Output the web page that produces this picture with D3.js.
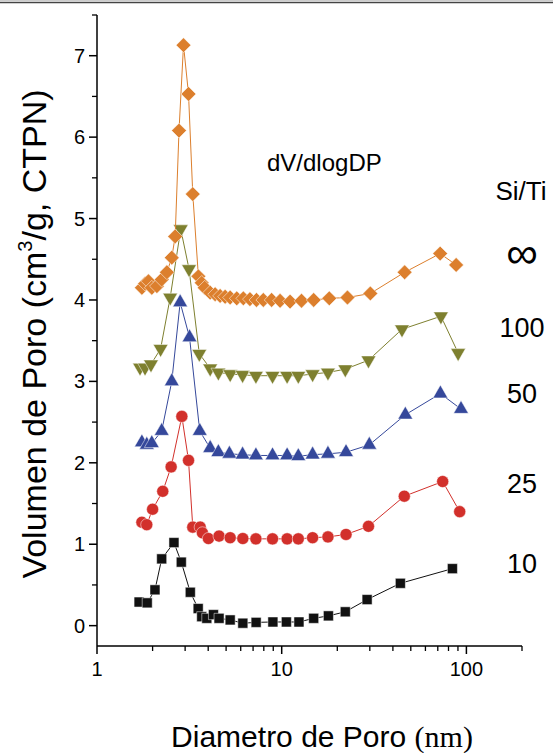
<!DOCTYPE html>
<html>
<head>
<meta charset="utf-8">
<script src="https://cdn.jsdelivr.net/npm/d3@7"></script>
<style>
  body { margin: 0; background: #fff; }
  svg { display: block; font-family: "Liberation Sans", Arial, sans-serif; }
</style>
</head>
<body>
<div id="chart"></div>
<script>
// data: pore diameter (nm) and dV/dlogD for each Si/Ti ratio
var x10 = [1.69, 1.87, 2.06, 2.24, 2.61, 2.86, 3.20, 3.53, 3.69, 3.93, 4.27, 4.58, 5.26, 6.16, 7.27, 8.96, 10.6, 12.4, 14.9, 17.9, 22.1, 29.0, 43.9, 84.0];
var y10 = [0.29, 0.28, 0.44, 0.82, 1.02, 0.78, 0.41, 0.21, 0.11, 0.09, 0.135, 0.09, 0.07, 0.03, 0.04, 0.045, 0.045, 0.045, 0.09, 0.12, 0.17, 0.32, 0.52, 0.70];

var x25 = [1.75, 1.86, 2.00, 2.27, 2.52, 2.88, 3.13, 3.30, 3.62, 3.72, 4.01, 4.58, 5.26, 6.16, 7.25, 8.92, 10.7, 12.3, 14.7, 17.8, 22.3, 29.5, 46.1, 74.4, 92.0];
var y25 = [1.27, 1.24, 1.43, 1.65, 1.95, 2.57, 2.03, 1.21, 1.21, 1.14, 1.07, 1.10, 1.08, 1.07, 1.066, 1.066, 1.066, 1.066, 1.08, 1.09, 1.12, 1.22, 1.59, 1.77, 1.40];

var x50 = [1.75, 1.86, 1.98, 2.24, 2.54, 2.82, 3.17, 3.60, 4.10, 4.54, 5.21, 6.14, 7.25, 8.92, 10.7, 12.3, 14.7, 17.8, 22.3, 29.8, 46.7, 72.3, 93.5];
var y50 = [2.25, 2.22, 2.24, 2.39, 3.00, 3.97, 3.54, 2.39, 2.18, 2.13, 2.11, 2.10, 2.09, 2.09, 2.09, 2.08, 2.10, 2.11, 2.13, 2.22, 2.59, 2.85, 2.66];

var x100 = [1.71, 1.82, 1.96, 2.21, 2.49, 2.84, 3.15, 3.58, 4.10, 4.54, 5.26, 6.14, 7.25, 8.92, 10.7, 12.3, 14.7, 17.8, 22.1, 29.5, 44.8, 72.8, 90.2];
var y100 = [3.17, 3.17, 3.21, 3.40, 4.03, 4.87, 4.38, 3.34, 3.16, 3.11, 3.09, 3.08, 3.07, 3.07, 3.07, 3.07, 3.09, 3.11, 3.15, 3.26, 3.64, 3.80, 3.35];

var xInf = [1.75, 1.82, 1.90, 1.98, 2.11, 2.24, 2.39, 2.54, 2.65, 2.78, 2.94, 3.13, 3.30, 3.54, 3.69, 3.83, 4.10, 4.36, 4.64, 4.94, 5.26, 5.71, 6.20, 6.73, 7.3, 7.95, 8.82, 9.8, 11.1, 12.8, 14.9, 18.1, 22.7, 30.2, 46.3, 72.1, 88.0];
var yInf = [4.15, 4.20, 4.23, 4.15, 4.17, 4.25, 4.34, 4.52, 4.78, 6.08, 7.13, 6.53, 5.30, 4.29, 4.21, 4.15, 4.09, 4.07, 4.05, 4.04, 4.03, 4.02, 4.02, 4.01, 4.00, 4.00, 4.00, 3.99, 3.98, 3.99, 4.00, 4.02, 4.03, 4.08, 4.34, 4.57, 4.43];

// labels on the right side and tick labels
var seriesNames = ["10", "25", "50", "100", "\u221E"];
var xTickLabels = ["1", "10", "100"];
var yTickLabels = ["0", "1", "2", "3", "4", "5", "6", "7"];

var width = 553;
var height = 753;

// plot box (named so they don't clash with window.top)
var plotLeft = 97, plotRight = 522, plotTop = 15, plotBottom = 646;

var svg = d3.select("#chart")
    .append("svg")
    .attr("width", width)
    .attr("height", height);

// thin rule across the top of the page
svg.append("line")
    .attr("x1", 0).attr("x2", width)
    .attr("y1", 0.5).attr("y2", 0.5)
    .attr("stroke", "#ccc").attr("stroke-width", 1);
svg.append("line")
    .attr("x1", 0).attr("x2", width)
    .attr("y1", 2.5).attr("y2", 2.5)
    .attr("stroke", "#444").attr("stroke-width", 1.5);

var xScale = d3.scaleLog().domain([1, 200]).range([plotLeft, plotRight]);
var yScale = d3.scaleLinear().domain([-0.25, 7.5]).range([plotBottom, plotTop]);

// x axis: majors at decades, minors between
var xMajor = xTickLabels.map(Number);
var xMinor = [];
[1, 10, 100].forEach(function(d) {
    for (var k = 2; k <= 9; k++) {
        if (d * k <= 200) xMinor.push(d * k);
    }
});

var xAxis = svg.append("g")
    .attr("class", "xAxis")
    .attr("transform", "translate(0," + plotBottom + ")");

xAxis.append("line")
    .attr("x1", plotLeft).attr("x2", plotRight)
    .attr("stroke", "#000").attr("stroke-width", 1.5);

xAxis.selectAll(".minor").data(xMinor).enter()
    .append("line")
    .attr("x1", function(d) { return xScale(d); })
    .attr("x2", function(d) { return xScale(d); })
    .attr("y1", 0).attr("y2", 5)
    .attr("stroke", "#000").attr("stroke-width", 1.3);

xAxis.selectAll(".major").data(xMajor).enter()
    .append("line")
    .attr("x1", function(d) { return xScale(d); })
    .attr("x2", function(d) { return xScale(d); })
    .attr("y1", 0).attr("y2", 8)
    .attr("stroke", "#000").attr("stroke-width", 1.5);

xAxis.selectAll(".tickText").data(xTickLabels).enter()
    .append("text")
    .attr("class", "tickText")
    .attr("x", function(d) { return xScale(+d); })
    .attr("y", 30)
    .attr("text-anchor", "middle")
    .attr("font-size", 20)
    .text(function(d) { return d; });

// y axis: majors at integers, minors at halves
var yMajor = yTickLabels.map(Number);
var yMinor = d3.range(0.5, 7.6, 1);

var yAxis = svg.append("g")
    .attr("class", "yAxis")
    .attr("transform", "translate(" + plotLeft + ",0)");

yAxis.append("line")
    .attr("y1", plotTop).attr("y2", plotBottom)
    .attr("stroke", "#000").attr("stroke-width", 1.5);

yAxis.selectAll(".minor").data(yMinor).enter()
    .append("line")
    .attr("y1", function(d) { return yScale(d); })
    .attr("y2", function(d) { return yScale(d); })
    .attr("x1", 0).attr("x2", -5)
    .attr("stroke", "#000").attr("stroke-width", 1.3);

yAxis.selectAll(".major").data(yMajor).enter()
    .append("line")
    .attr("y1", function(d) { return yScale(d); })
    .attr("y2", function(d) { return yScale(d); })
    .attr("x1", 0).attr("x2", -8)
    .attr("stroke", "#000").attr("stroke-width", 1.5);

yAxis.selectAll(".tickText").data(yTickLabels).enter()
    .append("text")
    .attr("class", "tickText")
    .attr("x", -12)
    .attr("y", function(d) { return yScale(+d) + 7; })
    .attr("text-anchor", "end")
    .attr("font-size", 20)
    .text(function(d) { return d; });

// axis titles
var xTitle = svg.append("text")
    .attr("x", 322)
    .attr("y", 747)
    .attr("text-anchor", "middle")
    .attr("font-size", 30);
xTitle.append("tspan").text("Diametro de Poro ");
xTitle.append("tspan").attr("font-family", "Liberation Serif, serif").text("(nm)");

var yTitle = svg.append("text")
    .attr("transform", "translate(46,334)rotate(-90)")
    .attr("text-anchor", "middle")
    .attr("font-size", 34);
yTitle.append("tspan").text("Volumen de Poro (cm");
yTitle.append("tspan").attr("font-size", 20).attr("dy", -14).text("3");
yTitle.append("tspan").attr("dy", 14).text("/g, CTPN)");

// the series themselves
var series = [
    { name: seriesNames[0], xs: x10, ys: y10, color: "#111111", symbol: d3.symbolSquare, size: 100, rotate: 0 },
    { name: seriesNames[1], xs: x25, ys: y25, color: "#D2302B", symbol: d3.symbolCircle, size: 115, rotate: 0 },
    { name: seriesNames[2], xs: x50, ys: y50, color: "#35489B", symbol: d3.symbolTriangle, size: 95, rotate: 0 },
    { name: seriesNames[3], xs: x100, ys: y100, color: "#7E802F", symbol: d3.symbolTriangle, size: 95, rotate: 180 },
    { name: seriesNames[4], xs: xInf, ys: yInf, color: "#DC7F2D", symbol: d3.symbolSquare, size: 110, rotate: 45 }
];

var line = d3.line()
    .x(function(d) { return xScale(d[0]); })
    .y(function(d) { return yScale(d[1]); });

series.forEach(function(s) {
    var pts = s.xs.map(function(x, i) { return [x, s.ys[i]]; });

    svg.append("path")
        .datum(pts)
        .attr("d", line)
        .attr("fill", "none")
        .attr("stroke", s.color)
        .attr("stroke-width", 1);

    svg.selectAll(null).data(pts).enter()
        .append("path")
        .attr("d", d3.symbol().type(s.symbol).size(s.size))
        .attr("transform", function(d) {
            return "translate(" + xScale(d[0]) + "," + yScale(d[1]) + ")rotate(" + s.rotate + ")";
        })
        .attr("fill", s.color)
        .attr("stroke", "#fff")
        .attr("stroke-width", 0.5);
});

// annotation text
svg.append("text")
    .attr("x", 267).attr("y", 171)
    .attr("font-size", 24)
    .text("dV/dlogDP");

svg.append("text")
    .attr("x", 521).attr("y", 200)
    .attr("text-anchor", "middle")
    .attr("font-size", 26)
    .text("Si/Ti");

// ratio labels next to each curve
var labelY = [573, 493, 403, 337, 268];
svg.selectAll(".ratio").data(seriesNames).enter()
    .append("text")
    .attr("class", "ratio")
    .attr("x", 522)
    .attr("y", function(d, i) { return labelY[i]; })
    .attr("text-anchor", "middle")
    .attr("font-size", function(d, i) { return i === 4 ? 44 : 27; })
    .text(function(d) { return d; });
</script>
</body>
</html>
